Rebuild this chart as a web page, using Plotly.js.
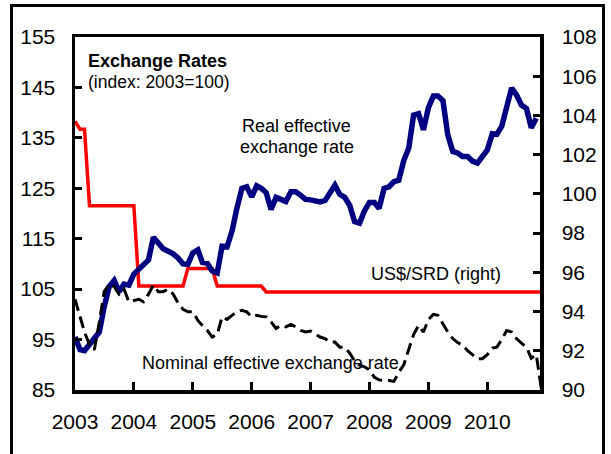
<!DOCTYPE html>
<html><head><meta charset="utf-8">
<script src="https://cdn.plot.ly/plotly-3.0.1.min.js"></script>
<style>
html,body{margin:0;padding:0;background:#fff;}
#frame{position:absolute;left:10px;top:4px;width:595px;height:470px;border:3px solid #000;box-sizing:border-box;}
#chart{position:absolute;left:0;top:0;width:611px;height:454px;}
</style></head><body>
<div id="frame"></div>
<div id="chart"></div>
<script>
// Monthly series, Jan 2003 onward
const startYear = 2003;
const realEffective = [
  95.5, 93.0, 92.8, 94.0, 94.9, 96.5, 101.5, 105.5, 106.7, 104.5, 106.0, 105.8,
  108.0, 109.0, 110.0, 110.8, 115.3, 114.0, 113.0, 112.5, 112.0, 111.2, 110.0, 109.9,
  112.2, 112.8, 110.3, 110.1, 108.6, 108.2, 113.5, 113.4, 116.5, 121.0, 125.0, 125.3,
  123.3, 125.5, 125.0, 124.1, 120.8, 123.2, 122.8, 122.4, 124.3, 124.3, 123.6, 122.8,
  122.7, 122.6, 122.3, 122.6, 124.0, 125.6, 123.8, 123.2, 121.6, 118.4, 118.1, 120.5,
  122.2, 122.2, 121.0, 125.0, 125.3, 126.3, 126.6, 130.5, 133.0, 139.5, 139.8, 136.6,
  141.0, 143.3, 143.3, 142.4, 135.6, 132.3, 132.0, 131.3, 131.3, 130.4, 130.0, 131.2,
  132.6, 135.8, 135.7, 137.3, 141.0, 144.9, 143.5, 141.5, 140.8, 137.0, 138.9
];
const nominalEffective = [
  103.0, 99.5, 96.5, 94.0, 93.0, 98.5, 104.5, 106.0, 105.5, 104.0, 105.0, 102.5,
  102.8, 103.0, 102.5, 104.0, 105.8, 104.5, 104.5, 105.0, 104.0, 102.3, 101.0, 100.5,
  100.5, 98.8, 97.8, 96.8, 95.5, 96.0, 99.5, 99.0, 99.8, 100.5, 100.8, 100.5,
  99.5, 99.8, 99.6, 99.5, 98.5, 97.2, 97.8, 97.5, 98.0, 97.5, 96.8, 96.5,
  96.7, 96.0, 95.5, 95.2, 94.5, 94.5, 93.5, 93.5, 92.3, 90.8, 89.9, 89.6,
  89.0, 87.5, 87.0, 86.9, 86.9, 86.7, 88.5, 90.0, 93.0, 96.0, 97.8, 96.5,
  99.0, 100.0, 99.8, 98.0, 96.5, 95.2, 94.4, 93.9, 92.8, 92.0, 91.2, 91.2,
  92.0, 93.3, 93.5, 95.0, 96.8, 96.5, 95.2, 94.3, 93.5, 91.3, 92.0, 85.5
];
const usdSrd = [
  103.7, 103.3, 103.3, 99.4, 99.4, 99.4, 99.4, 99.4, 99.4, 99.4, 99.4, 99.4,
  99.4, 95.3, 95.3, 95.3, 95.3, 95.3, 95.3, 95.3, 95.3, 95.3, 95.3, 96.2,
  96.2, 96.2, 96.2, 96.2, 96.2, 95.3, 95.3, 95.3, 95.3, 95.3, 95.3, 95.3,
  95.3, 95.3, 95.3, 95.0, 95.0, 95.0, 95.0, 95.0, 95.0, 95.0, 95.0, 95.0,
  95.0, 95.0, 95.0, 95.0, 95.0, 95.0, 95.0, 95.0, 95.0, 95.0, 95.0, 95.0,
  95.0, 95.0, 95.0, 95.0, 95.0, 95.0, 95.0, 95.0, 95.0, 95.0, 95.0, 95.0,
  95.0, 95.0, 95.0, 95.0, 95.0, 95.0, 95.0, 95.0, 95.0, 95.0, 95.0, 95.0,
  95.0, 95.0, 95.0, 95.0, 95.0, 95.0, 95.0, 95.0, 95.0, 95.0, 95.0, 95.0
];
const yearTicks = ['2003','2004','2005','2006','2007','2008','2009','2010'];

function months(n) {
  const out = [];
  for (let i = 0; i < n; i++) {
    const y = startYear + Math.floor(i / 12);
    const m = (i % 12) + 1;
    out.push(y + '-' + (m < 10 ? '0' + m : m) + '-01');
  }
  return out;
}

const FONT = '"Liberation Sans", Arial, sans-serif';

const traces = [
  { x: months(usdSrd.length), y: usdSrd, yaxis: 'y', type: 'scatter', mode: 'lines',
    line: { color: '#FF0000', width: 3.5 }, hoverinfo: 'skip' },
  { x: months(realEffective.length), y: realEffective, yaxis: 'y2', type: 'scatter', mode: 'lines',
    line: { color: '#000080', width: 5.5 }, hoverinfo: 'skip' },
  { x: months(nominalEffective.length), y: nominalEffective, yaxis: 'y2', type: 'scatter', mode: 'lines',
    line: { color: '#000000', width: 3, dash: '12px,6px' }, hoverinfo: 'skip' }
];

function ann(text, x, y, xanchor, size, bold) {
  return { text: bold ? '<b>' + text + '</b>' : text, xref: 'paper', yref: 'paper', x: x, y: y,
    xanchor: xanchor, yanchor: 'middle', showarrow: false,
    font: { family: FONT, size: size, color: '#000' } };
}

const layout = {
  width: 611, height: 454,
  margin: { l: 75, r: 71, t: 37, b: 64, pad: 0 },
  paper_bgcolor: 'rgba(0,0,0,0)', plot_bgcolor: '#fff',
  showlegend: false,
  font: { family: FONT, color: '#000' },
  xaxis: {
    type: 'date', range: ['2003-01-01', '2010-11-24'],
    tickvals: yearTicks.map(y => y + '-01-01'), ticktext: yearTicks,
    ticks: 'inside', ticklen: 8, tickwidth: 3, tickcolor: '#000',
    showline: true, linewidth: 3.5, linecolor: '#000', mirror: true,
    showgrid: false, zeroline: false,
    tickfont: { family: FONT, size: 21, color: '#000' }, ticklabelstandoff: 10
  },
  yaxis: {
    side: 'right', range: [90, 108], dtick: 2, tick0: 90,
    ticks: 'inside', ticklen: 7, tickwidth: 3, tickcolor: '#000',
    showline: true, linewidth: 3.5, linecolor: '#000',
    showgrid: false, zeroline: false,
    tickfont: { family: FONT, size: 21, color: '#000' }, ticklabelstandoff: 14
  },
  yaxis2: {
    overlaying: 'y', side: 'left', range: [85, 155], dtick: 10, tick0: 85,
    ticks: 'inside', ticklen: 7, tickwidth: 3, tickcolor: '#000',
    showline: true, linewidth: 3.5, linecolor: '#000',
    showgrid: false, zeroline: false,
    tickfont: { family: FONT, size: 21, color: '#000' }, ticklabelstandoff: 12
  },
  annotations: [
    ann('Exchange Rates', 0.023, 0.933, 'left', 18, true),
    ann('(index: 2003=100)', 0.023, 0.873, 'left', 17.5, false),
    ann('Real effective', 0.477, 0.748, 'center', 18, false),
    ann('exchange rate', 0.477, 0.689, 'center', 18, false),
    ann('US$/SRD (right)', 0.776, 0.329, 'center', 18, false),
    ann('Nominal effective exchange rate', 0.421, 0.0765, 'center', 18, false)
  ]
};

Plotly.newPlot('chart', traces, layout, { staticPlot: true, displayModeBar: false });
</script>
</body></html>
